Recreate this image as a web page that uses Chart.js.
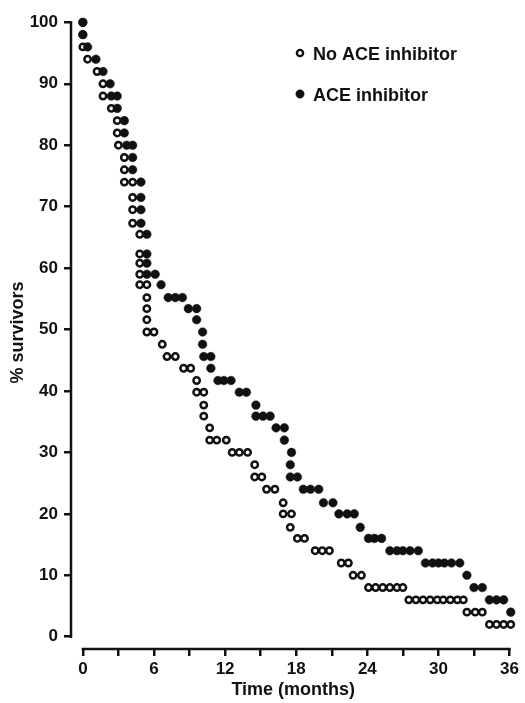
<!DOCTYPE html>
<html>
<head>
<meta charset="utf-8">
<script src="https://cdn.jsdelivr.net/npm/chart.js@4.4.1/dist/chart.umd.min.js"></script>
<style>
  html, body { margin: 0; padding: 0; background: #fff; }
  canvas { display: block; }
</style>
</head>
<body>
<canvas id="survivalChart" width="525" height="703"></canvas>
<script>
// time in months, % survivors
const noAceMonths = [
  0, 0, 0, 0.4, 1.2, 1.7, 1.7, 2.4, 2.9, 2.9, 3.0, 3.5, 3.5, 3.5, 4.2, 4.2,
  4.2, 4.2, 4.8, 4.8, 4.8, 4.8, 4.8, 5.4, 5.4, 5.4, 5.4, 5.4, 6.0, 6.7, 7.1,
  7.8, 8.5, 9.1, 9.6, 9.6, 10.2, 10.2, 10.2, 10.7, 10.7, 11.3, 12.1, 12.6,
  13.2, 13.9, 14.5, 14.5, 15.1, 15.5, 16.2, 16.9, 16.9, 17.6, 17.5, 18.1,
  18.7, 19.6, 20.2, 20.8, 21.8, 22.4, 22.8, 23.5, 24.1, 24.7, 25.3, 25.9,
  26.5, 27.0, 27.5, 28.1, 28.7, 29.3, 29.9, 30.4, 31.0, 31.6, 32.1, 32.4,
  33.1, 33.7, 34.3, 34.9, 35.5, 36.1,
];
const noAceSurvival = [
  100, 98, 96, 94, 92, 90, 88, 86, 84, 82, 80, 78, 76, 74, 74, 71.5,
  69.5, 67.3, 65.5, 62.3, 60.8, 59, 57.3, 57.3, 55.2, 53.4, 51.6, 49.6, 49.6, 47.6, 45.6,
  45.6, 43.7, 43.7, 41.7, 39.8, 39.8, 37.7, 35.9, 34, 32, 32, 32, 30,
  30, 30, 28, 26, 26, 24, 24, 21.8, 20, 20, 17.8, 16,
  16, 14, 14, 14, 12, 12, 10, 10, 8, 8, 8, 8,
  8, 8, 6, 6, 6, 6, 6, 6, 6, 6, 6, 4,
  4, 4, 2, 2, 2, 2,
];
const aceMonths = [
  0, 0, 0.4, 1.1, 1.7, 2.3, 2.4, 2.9, 2.9, 3.5, 3.5, 3.7, 4.2, 4.2, 4.2,
  4.9, 4.9, 4.9, 4.9, 5.4, 5.4, 5.4, 5.4, 6.1, 6.6, 7.2, 7.8, 8.4, 8.9,
  9.6, 9.6, 10.1, 10.1, 10.2, 10.8, 10.8, 11.4, 11.9, 12.5, 13.2, 13.8,
  14.6, 14.6, 15.2, 15.8, 16.3, 17.0, 17.0, 17.6, 17.5, 17.5, 18.1, 18.6,
  19.2, 19.9, 20.3, 21.1, 21.6, 22.3, 22.9, 23.4, 24.1, 24.6, 25.2, 25.9,
  26.5, 27.0, 27.6, 28.3, 28.9, 29.5, 30.0, 30.5, 31.1, 31.8, 32.4, 33.0,
  33.7, 34.3, 34.9, 35.5, 36.1,
];
const aceSurvival = [
  100, 98, 96, 94, 92, 90, 88, 88, 86, 84, 82, 80, 80, 78, 76,
  74, 71.5, 69.5, 67.3, 65.5, 62.3, 60.8, 59, 59, 57.3, 55.2, 55.2, 55.2, 53.4,
  53.4, 51.6, 49.6, 47.6, 45.6, 45.6, 43.7, 41.7, 41.7, 41.7, 39.8, 39.8,
  37.7, 35.9, 35.9, 35.9, 34, 34, 32, 30, 28, 26, 26, 24,
  24, 24, 21.8, 21.8, 20, 20, 20, 17.8, 16, 16, 16, 14,
  14, 14, 14, 14, 12, 12, 12, 12, 12, 12, 10, 8,
  8, 6, 6, 6, 4,
];
const xTicks = [0, 3, 6, 9, 12, 15, 18, 21, 24, 27, 30, 33, 36];
const yTicks = [0, 10, 20, 30, 40, 50, 60, 70, 80, 90, 100];
const seriesLabels = ["No ACE inhibitor", "ACE inhibitor"];

const ink = "#111";
const fontFamily = "'Liberation Sans', Arial, sans-serif";

function toPoints(xs, ys) {
  return xs.map((x, i) => ({ x: x, y: ys[i] }));
}

// the figure's axes stop at the end ticks, so draw the lines ourselves
const axisLines = {
  id: "axisLines",
  afterDatasetsDraw(chart) {
    const { ctx, chartArea, scales } = chart;
    ctx.save();
    ctx.strokeStyle = ink;
    ctx.lineWidth = 2.5;
    ctx.beginPath();
    ctx.moveTo(chartArea.left, scales.y.getPixelForValue(yTicks[0]) + 1.2);
    ctx.lineTo(chartArea.left, scales.y.getPixelForValue(yTicks[yTicks.length - 1]) - 1.2);
    ctx.moveTo(scales.x.getPixelForValue(xTicks[0]) - 1.2, chartArea.bottom);
    ctx.lineTo(scales.x.getPixelForValue(xTicks[xTicks.length - 1]) + 1.2, chartArea.bottom);
    ctx.stroke();
    ctx.restore();
  },
};

// legend box in the upper right, as in the figure
const legendKey = {
  id: "legendKey",
  afterDraw(chart) {
    const { ctx } = chart;
    const rows = [
      { y: 54, fill: "#fff" },
      { y: 95, fill: ink },
    ];
    ctx.save();
    ctx.font = "bold 18px " + fontFamily;
    ctx.textBaseline = "middle";
    ctx.fillStyle = ink;
    rows.forEach((row, i) => {
      ctx.beginPath();
      ctx.arc(300, row.y - 1, i === 0 ? 3.1 : 4.2, 0, Math.PI * 2);
      ctx.fillStyle = row.fill;
      ctx.fill();
      ctx.lineWidth = i === 0 ? 2.4 : 0.5;
      ctx.strokeStyle = ink;
      ctx.stroke();
      ctx.fillStyle = ink;
      ctx.fillText(seriesLabels[i], 313, row.y + 1);
    });
    ctx.restore();
  },
};

const ctx = document.getElementById("survivalChart");
new Chart(ctx, {
  type: "scatter",
  data: {
    datasets: [
      {
        label: seriesLabels[0],
        data: toPoints(noAceMonths, noAceSurvival),
        pointStyle: "circle",
        pointRadius: 3.2,
        pointBorderWidth: 2.5,
        backgroundColor: "#fff",
        borderColor: ink,
        order: 1,
        clip: false,
      },
      {
        label: seriesLabels[1],
        data: toPoints(aceMonths, aceSurvival),
        pointStyle: "circle",
        pointRadius: 4.3,
        pointBorderWidth: 0.5,
        backgroundColor: ink,
        borderColor: ink,
        order: 0,
        clip: false,
      },
    ],
  },
  options: {
    responsive: false,
    animation: false,
    devicePixelRatio: 1,
    layout: { padding: { left: 0, right: 9.5, top: 11, bottom: 0 } },
    plugins: {
      legend: { display: false },
      tooltip: { enabled: false },
    },
    elements: { point: { hoverRadius: 4 } },
    scales: {
      x: {
        type: "linear",
        min: -1,
        max: 36.5,
        afterBuildTicks: (scale) => {
          scale.ticks = xTicks.map((v) => ({ value: v }));
        },
        afterFit: (scale) => {
          scale.height = 54;
        },
        border: { display: false },
        grid: {
          drawOnChartArea: false,
          drawTicks: true,
          tickLength: 7,
          tickColor: ink,
          lineWidth: 2.5,
        },
        ticks: {
          padding: 3,
          color: ink,
          font: { family: fontFamily, size: 17, weight: "bold" },
          maxRotation: 0,
          autoSkip: false,
          callback: (v) => (v % 6 === 0 ? String(v) : ""),
        },
        title: {
          display: true,
          text: "Time (months)",
          color: ink,
          font: { family: fontFamily, size: 18, weight: "bold" },
          padding: { top: 0, bottom: 2 },
        },
      },
      y: {
        type: "linear",
        min: -2,
        max: 101,
        afterBuildTicks: (scale) => {
          scale.ticks = yTicks.map((v) => ({ value: v }));
        },
        afterFit: (scale) => {
          scale.width = 71;
        },
        border: { display: false },
        grid: {
          drawOnChartArea: false,
          drawTicks: true,
          tickLength: 7,
          tickColor: ink,
          lineWidth: 2.5,
        },
        ticks: {
          padding: 6,
          color: ink,
          font: { family: fontFamily, size: 17, weight: "bold" },
          autoSkip: false,
        },
        title: {
          display: true,
          text: "% survivors",
          color: ink,
          font: { family: fontFamily, size: 18, weight: "bold" },
          padding: { top: 7, bottom: 0 },
        },
      },
    },
  },
  plugins: [axisLines, legendKey],
});
</script>
</body>
</html>
